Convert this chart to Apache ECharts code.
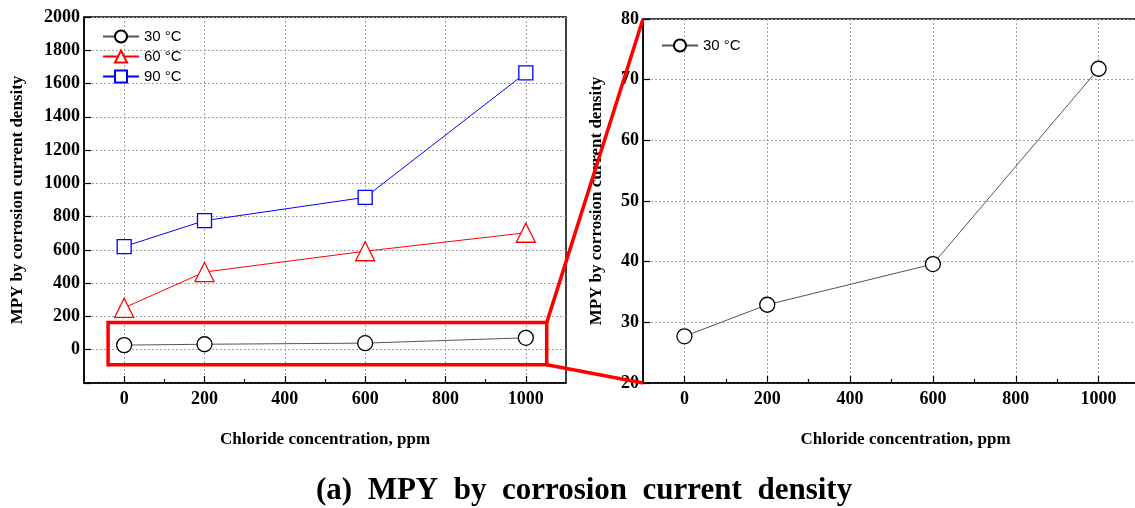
<!DOCTYPE html>
<html><head><meta charset="utf-8">
<script src="https://cdn.jsdelivr.net/npm/echarts@6/dist/echarts.min.js"></script>
<style>html,body{margin:0;padding:0;background:#fff}#c{width:1135px;height:508px}</style>
</head><body><div id="c"></div>
<script>
const chloride = [0, 200, 600, 1000];
const mpy30 = [27.7, 32.9, 39.6, 71.8];
const mpy60 = [252, 467, 592, 703];
const mpy90 = [620, 776, 916, 1664];
const seriesNames = ['30 °C', '60 °C', '90 °C'];
const leftYTicks = {min: -200, max: 2000, interval: 200};
const rightYTicks = {min: 20, max: 80, interval: 10};
const xRange = {min: -100, max: 1100, interval: 100};
const xMajorTicks = [0, 200, 400, 600, 800, 1000];
const xMinorTicks = [100, 300, 500, 700, 900];
const zoomBox = {x0: -40, x1: 1052, y0: -90, y1: 163};
const axisTitleX = 'Chloride concentration, ppm';
const axisTitleY = 'MPY by corrosion current density';
const caption = '(a)  MPY  by  corrosion  current  density';

const pts = ys => chloride.map((x, i) => [x, ys[i]]);
const serif = 'Liberation Serif';
const labelStyle = {fontFamily: serif, fontWeight: 'bold', fontSize: 18, color: '#000'};
const nameStyle = {fontFamily: serif, fontWeight: 'bold', fontSize: 17, color: '#000'};
const split = {show: true, lineStyle: {color: '#a0a0a0', type: [2, 2], width: 1}};

function xAxis(gi, shift) {
  return {type: 'value', gridIndex: gi, min: xRange.min, max: xRange.max, interval: xRange.interval,
    axisLine: {onZero: false, lineStyle: {color: '#000', width: 1.5}},
    axisTick: {inside: true, length: 7, customValues: xMajorTicks, lineStyle: {color: '#000', width: 1.2}},
    axisLabel: Object.assign({margin: 7, customValues: xMajorTicks, formatter: v => String(v)}, labelStyle), splitLine: split,
    name: axisTitleX, nameLocation: 'middle', nameGap: 48,
    nameTextStyle: Object.assign({padding: [0, 0, 0, shift]}, nameStyle)};
}
function xMinorAxis(gi) {
  return {type: 'value', gridIndex: gi, position: 'bottom', min: xRange.min, max: xRange.max, interval: xRange.interval,
    axisLine: {show: false, onZero: false},
    axisTick: {inside: true, length: 4, customValues: xMinorTicks, lineStyle: {color: '#000', width: 1.2}},
    axisLabel: {show: false}, splitLine: {show: false}};
}
function yAxis(gi, t, gap, hideFirst) {
  return {type: 'value', gridIndex: gi, min: t.min, max: t.max, interval: t.interval,
    axisLine: {onZero: false, lineStyle: {color: '#000', width: 1.5}},
    axisTick: {inside: true, length: 7, lineStyle: {color: '#000', width: 1.2}},
    axisLabel: Object.assign({margin: 4, formatter: v => (hideFirst && v === t.min) ? '' : String(v)}, labelStyle),
    splitLine: split,
    name: axisTitleY, nameLocation: 'middle', nameGap: gap, nameTextStyle: nameStyle};
}
function mkSeries(name, data, sym, size, color, lineColor, xi, yi) {
  return {type: 'line', name, data: pts(data), xAxisIndex: xi, yAxisIndex: yi, symbol: sym, symbolSize: size,
    showAllSymbol: true, z: 3,
    lineStyle: {color: lineColor, width: 1}, itemStyle: {color: '#fff', borderColor: color, borderWidth: 1.3},
    emphasis: {disabled: true}};
}
const s30L = mkSeries(seriesNames[0], mpy30, 'circle', 15, '#000', '#555', 0, 0);
s30L.markArea = {silent: true, z: 5, itemStyle: {color: 'rgba(0,0,0,0)', borderColor: '#ff0000', borderWidth: 3.5},
  data: [[{coord: [zoomBox.x0, zoomBox.y1]}, {coord: [zoomBox.x1, zoomBox.y0]}]]};

const chart = echarts.init(document.getElementById('c'));
const legendText = {fontFamily: 'Liberation Sans', fontSize: 15, color: '#000'};
chart.setOption({
  animation: false,
  title: {text: caption, left: 311, top: 470, textStyle: {fontFamily: serif, fontWeight: 'bold', fontSize: 31, color: '#000'}},
  grid: [
    {left: 84, top: 17, width: 482, height: 366, show: true, borderColor: '#000', borderWidth: 1.5, backgroundColor: 'transparent', outerBoundsMode: 'none', containLabel: false},
    {left: 643, top: 19, width: 497, height: 364, show: true, borderColor: '#000', borderWidth: 1.5, backgroundColor: 'transparent', outerBoundsMode: 'none', containLabel: false}
  ],
  xAxis: [xAxis(0, 0), xAxis(1, 28), xMinorAxis(0), xMinorAxis(1)],
  yAxis: [yAxis(0, leftYTicks, 58, true), yAxis(1, rightYTicks, 38, false)],
  legend: [
    {data: seriesNames, left: 97, top: 24, orient: 'vertical', itemGap: 5, itemWidth: 36, itemHeight: 15, textStyle: legendText, selectedMode: false},
    {data: [seriesNames[0]], left: 656, top: 33, orient: 'vertical', itemWidth: 36, itemHeight: 15, textStyle: legendText, selectedMode: false}
  ],
  series: [
    s30L,
    mkSeries(seriesNames[1], mpy60, 'triangle', 19, '#ff0000', '#ff0000', 0, 0),
    mkSeries(seriesNames[2], mpy90, 'rect', 14, '#0000ff', '#0000ff', 0, 0),
    mkSeries(seriesNames[0], mpy30, 'circle', 15, '#000', '#555', 1, 1)
  ]
});
const a = chart.convertToPixel({gridIndex: 0}, [zoomBox.x1, zoomBox.y1]);
const b = chart.convertToPixel({gridIndex: 1}, [xRange.min, rightYTicks.max]);
const c = chart.convertToPixel({gridIndex: 0}, [zoomBox.x1, zoomBox.y0]);
const d = chart.convertToPixel({gridIndex: 1}, [xRange.min, rightYTicks.min]);
const red = {stroke: '#ff0000', lineWidth: 3.5};
chart.setOption({graphic: [
  {type: 'line', z: 100, shape: {x1: a[0], y1: a[1], x2: b[0], y2: b[1]}, style: red, silent: true},
  {type: 'line', z: 100, shape: {x1: c[0], y1: c[1], x2: d[0], y2: d[1]}, style: red, silent: true}
]});
</script></body></html>
